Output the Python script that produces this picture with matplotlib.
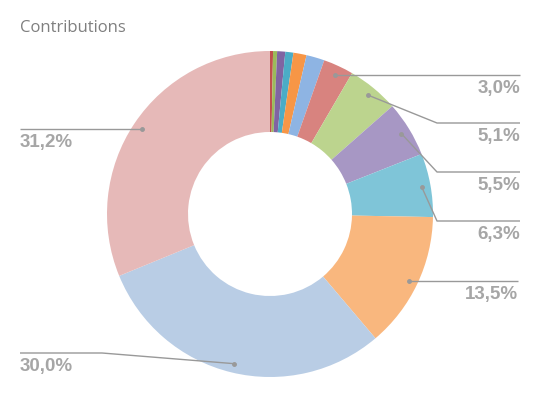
import numpy as np
import matplotlib
matplotlib.use("Agg")
import matplotlib.pyplot as plt

# slices clockwise from 12 o'clock
shares = [0.3, 0.4, 0.8, 0.8, 1.3, 1.8, 3.0, 5.1, 5.5, 6.3, 13.5, 30.0, 31.2]
colors = ["#C0504D", "#9BBB59", "#8064A2", "#4BACC6", "#F79646", "#8EB4E3",
          "#D8837F", "#BCD48E", "#A797C4", "#7FC5D8", "#F9B77E", "#B9CDE5", "#E6B9B8"]
labels = ["", "", "", "", "", "", "3,0%", "5,1%", "5,5%", "6,3%", "13,5%", "30,0%", "31,2%"]

W, H = 540, 398
cx, cy, R, r_in = 270, 214, 163, 82

fig = plt.figure(figsize=(W / 100, H / 100), dpi=100)
ax = fig.add_axes([0, 0, 1, 1])

ax.pie(shares, colors=colors, startangle=90, counterclock=False,
       center=(cx, H - cy), radius=R, normalize=True,
       wedgeprops=dict(width=R - r_in, linewidth=0))
# pie resets the limits, so set them afterwards
ax.set_xlim(0, W)
ax.set_ylim(0, H)
ax.set_aspect("auto")
ax.axis("off")

# leader lines: (elbow x, elbow y, end x, end y) in pixel coords, top-left origin
leaders = {
    "3,0%": (None, None, 520, 75),
    "5,1%": (437, 123, 520, 123),
    "5,5%": (437, 172, 520, 172),
    "6,3%": (437, 221, 520, 221),
    "13,5%": (None, None, 518, 281),
    "30,0%": (102, 353, 20, 353),
    "31,2%": (None, None, 20, 129),
}

line_c = "#999999"
text_c = "#A6A6A6"
cum = np.cumsum([0] + shares[:-1])
total = sum(shares)
for s, c0, lab in zip(shares, cum, labels):
    if not lab:
        continue
    ang = np.deg2rad(90 - 360 * (c0 + s / 2) / total)
    dx = cx + 154 * np.cos(ang)
    dy = H - cy + 154 * np.sin(ang)
    ex, ey, tx, ty = leaders[lab]
    xs, ys = [dx], [dy]
    if ex is not None:
        xs.append(ex)
        ys.append(H - ey)
    else:
        ys[0] = H - ty
    xs.append(tx)
    ys.append(H - ty)
    ax.plot(xs, ys, color=line_c, lw=1.0, solid_capstyle="butt")
    ax.plot([dx], [ys[0]], "o", color=line_c, ms=2.5)
    ha = "right" if tx > cx else "left"
    ax.text(tx, H - ty - 5, lab, ha=ha, va="top", fontsize=13.5,
            fontweight="bold", color=text_c, family="Liberation Sans")

fig.text(20 / W, 1 - 28 / H, "Contributions", ha="left", va="center",
         fontsize=12, color="#7F7F7F", family="Open Sans")

fig.savefig("out.png", dpi=100, facecolor="white")
